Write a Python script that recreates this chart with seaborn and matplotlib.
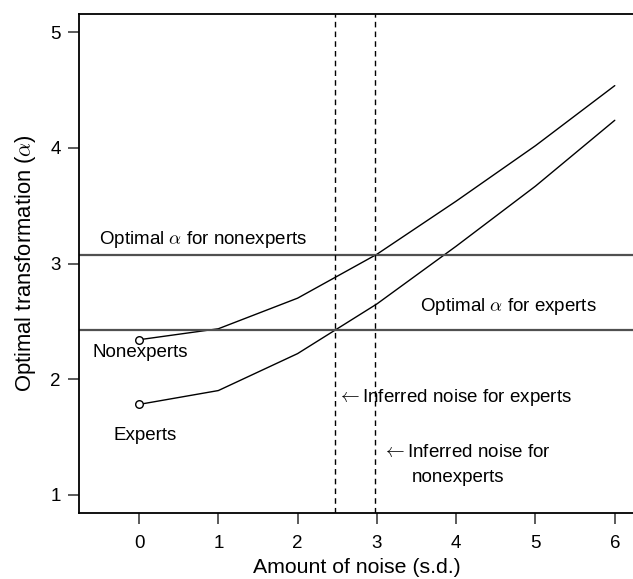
import matplotlib
matplotlib.use("Agg")
import matplotlib.pyplot as plt
import seaborn as sns
import pandas as pd

# Amount of noise (s.d.) and optimal transformation for each group
noise = [0, 1, 2, 3, 4, 5, 6]
alpha_nonexperts = [2.34, 2.435, 2.70, 3.08, 3.54, 4.02, 4.54]
alpha_experts = [1.78, 1.90, 2.22, 2.65, 3.15, 3.67, 4.24]

# Optimal alpha per group and the inferred noise levels
optimal_nonexperts = 3.076
optimal_experts = 2.427
inferred_experts = 2.47
inferred_nonexperts = 2.98

x_ticks = [0, 1, 2, 3, 4, 5, 6]
y_ticks = [1, 2, 3, 4, 5]

df = pd.DataFrame({
    "noise": noise * 2,
    "alpha": alpha_nonexperts + alpha_experts,
    "group": ["Nonexperts"] * len(noise) + ["Experts"] * len(noise),
})

sns.set_theme(style="white")
plt.rcParams["font.family"] = ["Liberation Sans", "DejaVu Sans"]
plt.rcParams["mathtext.fontset"] = "cm"
plt.rcParams["text.color"] = "black"
plt.rcParams["axes.labelcolor"] = "black"
plt.rcParams["xtick.labelcolor"] = "black"
plt.rcParams["ytick.labelcolor"] = "black"

W, H = 633, 579
fig = plt.figure(figsize=(W / 100, H / 100), dpi=100)
left_px, right_px, top_px, bottom_px = 79, 635.4, 14, 513
ax = fig.add_axes([left_px / W, 1 - bottom_px / H,
                   (right_px - left_px) / W, (bottom_px - top_px) / H])

sns.lineplot(data=df, x="noise", y="alpha", units="group", estimator=None,
             color="black", linewidth=1.0, ax=ax, legend=False)

# open circles at zero noise
start = df[df["noise"] == 0]
ax.scatter(start["noise"], start["alpha"], s=30, facecolors="white",
           edgecolors="black", linewidths=1.0, zorder=5)

ax.axhline(optimal_nonexperts, color="#505050", linewidth=1.6)
ax.axhline(optimal_experts, color="#505050", linewidth=1.6)
ax.axvline(inferred_experts, color="black", linewidth=1.0, linestyle=(0, (4, 3)))
ax.axvline(inferred_nonexperts, color="black", linewidth=1.0, linestyle=(0, (4, 3)))

ax.set_xlim(-0.757, 6.26)
ax.set_ylim(0.84, 5.16)
ax.set_xticks(x_ticks)
ax.set_yticks(y_ticks)
ax.tick_params(axis="both", labelsize=13.5, length=8, width=1.2,
               color="#404040", labelcolor="black", direction="out")
ax.tick_params(axis="x", pad=8)
ax.tick_params(axis="y", pad=5)
ax.tick_params(bottom=True, left=True)

for side in ["top", "bottom", "left", "right"]:
    ax.spines[side].set_color("black")
    ax.spines[side].set_linewidth(1.3)

ax.set_xlabel("Amount of noise (s.d.)", fontsize=15.3, color="black")
ax.set_ylabel(r"Optimal transformation ($\alpha$)", fontsize=15.8, color="black")
ax.xaxis.set_label_coords(0.5, -0.11)
ax.yaxis.set_label_coords(-0.097, 0.5)
ax.xaxis.label.set_va("center")
ax.yaxis.label.set_va("center")

fs = 13.5
ax.text(-0.504, 3.21, r"Optimal $\alpha$ for nonexperts", fontsize=fs,
        ha="left", va="center")
ax.text(4.66, 2.63, r"Optimal $\alpha$ for experts", fontsize=fs,
        ha="center", va="center")
ax.text(0.02, 2.23, "Nonexperts", fontsize=fs, ha="center", va="center")
ax.text(0.08, 1.51, "Experts", fontsize=fs, ha="center", va="center")
ax.text(2.50, 1.84, r"$\leftarrow$Inferred noise for experts", fontsize=fs,
        ha="left", va="center")
ax.text(3.06, 1.36, r"$\leftarrow$Inferred noise for", fontsize=fs,
        ha="left", va="center")
ax.text(3.44, 1.15, "nonexperts", fontsize=fs, ha="left", va="center")

fig.savefig("out.png", dpi=100, facecolor="white")
